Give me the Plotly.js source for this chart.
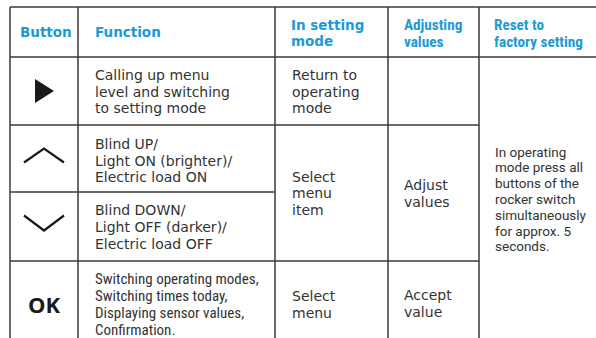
<!DOCTYPE html>
<html>
<head>
<meta charset="utf-8">
<script src="https://cdn.plot.ly/plotly-3.0.1.min.js"></script>
<style>html,body{margin:0;padding:0;background:#fff;}#chart{width:596px;height:338px;}</style>
</head>
<body>
<div id="chart"></div>
<script>
// ---- data ----
const headers = [["Button"], ["Function"], ["In setting", "mode"], ["Adjusting", "values"], ["Reset to", "factory setting"]];
const buttons = ["right", "up", "down", "OK"];
const functions = [
  ["Calling up menu", "level and switching", "to setting mode"],
  ["Blind UP/", "Light ON (brighter)/", "Electric load ON"],
  ["Blind DOWN/", "Light OFF (darker)/", "Electric load OFF"],
  ["Switching operating modes,", "Switching times today,", "Displaying sensor values,", "Confirmation."]
];
const settingMode = [["Return to", "operating", "mode"], ["Select", "menu", "item"], ["Select", "menu"]];
const adjustingValues = [["Adjust", "values"], ["Accept", "value"]];
const resetText = ["In operating", "mode press all", "buttons of the", "rocker switch", "simultaneously", "for approx. 5", "seconds."];

// ---- layout geometry ----
const colX = [10, 78, 275, 388, 479, 596];
const rowY = [7, 57, 125, 192, 261, 400];
const BLUE = "#1c9ad6", INK = "#333333", LINE = "#3a3a3a";
const WIDE = "DejaVu Sans, Open Sans, sans-serif";
const NARROW = "Liberation Sans Narrow, Roboto Condensed, Roboto, sans-serif";
const ROBO = "Roboto, Liberation Sans, sans-serif";

const shapes = [];
const annotations = [];
function hline(y, x0, x1) { shapes.push({type: "line", xref: "x", yref: "y", x0: x0, x1: x1, y0: y, y1: y, line: {color: LINE, width: 1.5}}); }
function vline(x, y0, y1) { shapes.push({type: "line", xref: "x", yref: "y", x0: x, x1: x, y0: y0, y1: y1, line: {color: LINE, width: 1.5}}); }
function lines(arr, x, yc, step, font) {
  const n = arr.length;
  arr.forEach(function (t, i) {
    annotations.push({xref: "x", yref: "y", x: x, y: yc + (i - (n - 1) / 2) * step, text: t, showarrow: false,
      xanchor: "left", yanchor: "middle", borderpad: 0, font: font});
  });
}

// grid
hline(rowY[0], colX[0], colX[5]);
hline(rowY[1], colX[0], colX[5]);
hline(rowY[2], colX[0], colX[4]);
hline(rowY[3], colX[0], colX[2]);
hline(rowY[4], colX[0], colX[4]);
[0, 1, 2, 3, 4].forEach(function (i) { vline(colX[i], rowY[0], 338); });

// headers
const hFont = {family: WIDE, size: 13.5, color: BLUE, weight: 700};
const hNarrow = {family: NARROW, size: 15.2, color: BLUE, weight: 700};
lines(headers[0], colX[0] + 9, 32, 16.3, hFont);
lines(headers[1], colX[1] + 16, 32, 16.3, hFont);
lines(headers[2], colX[2] + 15, 33, 16.3, hFont);
lines(headers[3], colX[3] + 15, 33, 17, hNarrow);
lines(headers[4], colX[4] + 14, 33, 17, hNarrow);

// button icons
const bx = (colX[0] + colX[1]) / 2;
buttons.forEach(function (b, i) {
  const yc = (rowY[i + 1] + rowY[i + 2]) / 2;
  if (b === "right") {
    shapes.push({type: "path", xref: "x", yref: "y", path: "M" + (bx - 9) + "," + (yc - 12) + " L" + (bx + 10) + "," + yc + " L" + (bx - 9) + "," + (yc + 12) + " Z",
      fillcolor: "#1a1a1a", line: {width: 0}});
  } else if (b === "up") {
    shapes.push({type: "path", xref: "x", yref: "y", path: "M" + (bx - 20) + "," + (yc + 4) + " L" + bx + "," + (yc - 10) + " L" + (bx + 20) + "," + (yc + 4),
      line: {color: "#1a1a1a", width: 2.2}});
  } else if (b === "down") {
    shapes.push({type: "path", xref: "x", yref: "y", path: "M" + (bx - 20) + "," + (yc - 11) + " L" + bx + "," + (yc + 4) + " L" + (bx + 20) + "," + (yc - 11),
      line: {color: "#1a1a1a", width: 2.2}});
  } else {
    annotations.push({xref: "x", yref: "y", x: bx + 0.5, y: 304, text: b, showarrow: false, xanchor: "center", yanchor: "middle",
      borderpad: 0, font: {family: "Open Sans, sans-serif", size: 22, color: "#1a1a1a", weight: 700}});
  }
});

// body text
const bFont = {family: WIDE, size: 14, color: INK};
const nFont = {family: NARROW, size: 15, color: INK};
const rFont = {family: ROBO, size: 13.5, color: INK};
lines(functions[0], colX[1] + 16, 91.5, 16.5, bFont);
lines(functions[1], colX[1] + 16, 160.5, 16.5, bFont);
lines(functions[2], colX[1] + 16, 227, 17, bFont);
lines(functions[3], colX[1] + 16, 304, 17, nFont);

lines(settingMode[0], colX[2] + 16, 91.5, 16.5, bFont);
lines(settingMode[1], colX[2] + 16, 193, 16.5, bFont);
lines(settingMode[2], colX[2] + 16, 304, 17, bFont);

lines(adjustingValues[0], colX[3] + 15, 193.5, 17, bFont);
lines(adjustingValues[1], colX[3] + 15, 303.5, 17, bFont);

lines(resetText, colX[4] + 15, 199, 15.8, rFont);

const layout = {
  width: 596, height: 338,
  margin: {l: 0, r: 0, t: 0, b: 0},
  paper_bgcolor: "#ffffff", plot_bgcolor: "#ffffff",
  xaxis: {range: [0, 596], visible: false, fixedrange: true},
  yaxis: {range: [338, 0], visible: false, fixedrange: true},
  showlegend: false,
  shapes: shapes,
  annotations: annotations
};
Plotly.newPlot("chart", [{x: [], y: [], type: "scatter", hoverinfo: "skip"}], layout, {displayModeBar: false, staticPlot: true});
</script>
</body>
</html>
